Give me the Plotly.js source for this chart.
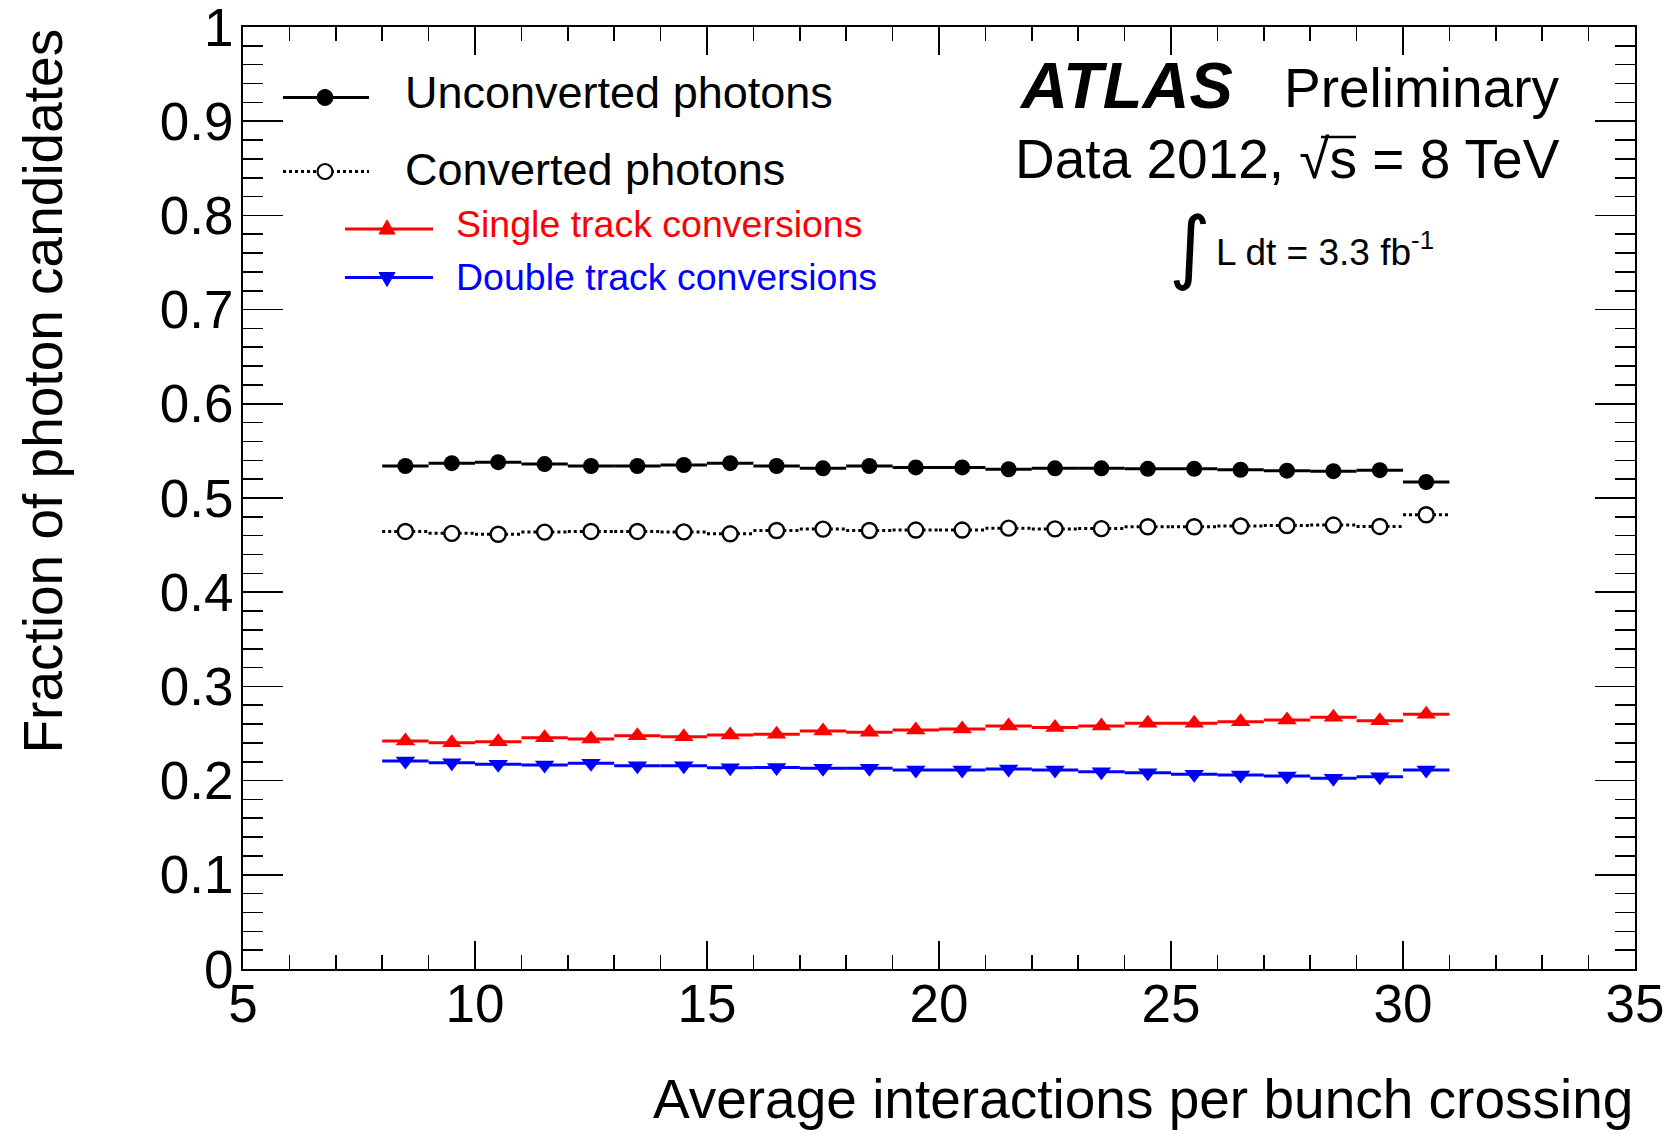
<!DOCTYPE html>
<html>
<head>
<meta charset="utf-8">
<script src="https://cdn.plot.ly/plotly-3.0.1.min.js"></script>
<style>
  html, body { margin: 0; padding: 0; background: #fff; }
  #chart { width: 1670px; height: 1131px; }
</style>
</head>
<body>
<div id="chart"></div>
<script>
// Average interactions per bunch crossing (bin centres, bin width 1)
const mu = [8.5, 9.5, 10.5, 11.5, 12.5, 13.5, 14.5, 15.5, 16.5, 17.5, 18.5, 19.5,
            20.5, 21.5, 22.5, 23.5, 24.5, 25.5, 26.5, 27.5, 28.5, 29.5, 30.5];
const binWidth = 1;

// Fraction of photon candidates per category
const unconverted = [0.534, 0.537, 0.538, 0.536, 0.534, 0.534, 0.535, 0.537, 0.534, 0.5315, 0.534, 0.5325,
                     0.5325, 0.5305, 0.5315, 0.5315, 0.531, 0.531, 0.530, 0.529, 0.5285, 0.5295, 0.517];
const converted   = [0.4645, 0.4625, 0.4615, 0.4638, 0.4645, 0.4645, 0.464, 0.462, 0.4655, 0.467, 0.4655, 0.466,
                     0.466, 0.468, 0.4672, 0.4675, 0.4695, 0.4695, 0.4703, 0.4708, 0.4713, 0.4698, 0.4822];
const singleTrack = [0.242, 0.2403, 0.2413, 0.2455, 0.2442, 0.2477, 0.2466, 0.2484, 0.2492, 0.2527, 0.2513, 0.2537,
                     0.2548, 0.258, 0.2565, 0.258, 0.2608, 0.2608, 0.2626, 0.2643, 0.2672, 0.2636, 0.2704];
const doubleTrack = [0.2208, 0.219, 0.2173, 0.2166, 0.2184, 0.2158, 0.2158, 0.2137, 0.214, 0.2131, 0.2131, 0.2113,
                     0.2113, 0.2123, 0.2113, 0.2094, 0.2084, 0.2067, 0.206, 0.2049, 0.2024, 0.2042, 0.2113];

const seriesNames = ["Unconverted photons", "Converted photons",
                     "Single track conversions", "Double track conversions"];

// Tick values
const xTicks = [5, 10, 15, 20, 25, 30, 35];
const yTicks = [0, 0.1, 0.2, 0.3, 0.4, 0.5, 0.6, 0.7, 0.8, 0.9, 1];
const yTickText = ["0", "0.1", "0.2", "0.3", "0.4", "0.5", "0.6", "0.7", "0.8", "0.9", "1"];

const FONT = "Liberation Sans, Arial, Helvetica, sans-serif";

// Series styling
const styles = [
  { y: unconverted, color: "#000000", dash: "solid", lineWidth: 3,
    marker: { symbol: "circle", size: 16, color: "#000000" } },
  { y: converted, color: "#000000", dash: "dot", lineWidth: 3,
    marker: { symbol: "circle", size: 15, color: "#ffffff", line: { color: "#000000", width: 2.4 } } },
  { y: singleTrack, color: "#ff0000", dash: "solid", lineWidth: 3,
    marker: { symbol: "triangle-up", size: 17, color: "#ff0000" } },
  { y: doubleTrack, color: "#0000ff", dash: "solid", lineWidth: 3,
    marker: { symbol: "triangle-down", size: 17, color: "#0000ff" } }
];

const traces = [];
styles.forEach((s, k) => {
  // horizontal bar spanning each bin
  const bx = [], by = [];
  mu.forEach((m, i) => {
    bx.push(m - binWidth / 2, m + binWidth / 2, null);
    by.push(s.y[i], s.y[i], null);
  });
  traces.push({
    type: "scatter", mode: "lines", x: bx, y: by, name: seriesNames[k],
    line: { color: s.color, width: s.lineWidth, dash: s.dash },
    connectgaps: false, showlegend: false, hoverinfo: "skip"
  });
});
styles.forEach((s, k) => {
  traces.push({
    type: "scatter", mode: "markers", x: mu, y: s.y, name: seriesNames[k],
    marker: s.marker, showlegend: false
  });
});

// plot-area geometry (pixels) used to place the legend and labels
const L = 243, T = 27, W = 1392, H = 942;
const px = x => (x - L) / W;
const py = y => (T + H - y) / H;

const shapes = [];
const annotations = [];

// hand-built legend
const legendRows = [
  { text: seriesNames[0], color: "#000000", dash: "solid", x0: 283, x1: 369, xm: 325, y: 97.5, ty: 93, tx: 403, size: 45, mk: "dot" },
  { text: seriesNames[1], color: "#000000", dash: "dot",   x0: 283, x1: 369, xm: 325, y: 171.5, ty: 170, tx: 403, size: 45, mk: "open" },
  { text: seriesNames[2], color: "#ff0000", dash: "solid", x0: 345, x1: 433, xm: 387, y: 229, ty: 224, tx: 454, size: 37.5, mk: "up" },
  { text: seriesNames[3], color: "#0000ff", dash: "solid", x0: 345, x1: 433, xm: 387, y: 277.5, ty: 277, tx: 454, size: 37.5, mk: "down" }
];
legendRows.forEach(r => {
  shapes.push({ type: "line", xref: "paper", yref: "paper",
    x0: px(r.x0), x1: px(r.x1), y0: py(r.y), y1: py(r.y),
    line: { color: r.color, width: 3, dash: r.dash } });
  const base = { xref: "paper", yref: "paper", xsizemode: "pixel", ysizemode: "pixel",
                 xanchor: px(r.xm), yanchor: py(r.y) };
  if (r.mk === "dot") {
    shapes.push(Object.assign({ type: "circle", x0: -8, x1: 8, y0: -8, y1: 8,
      fillcolor: r.color, line: { color: r.color, width: 1 } }, base));
  } else if (r.mk === "open") {
    shapes.push(Object.assign({ type: "circle", x0: -7.5, x1: 7.5, y0: -7.5, y1: 7.5,
      fillcolor: "#ffffff", line: { color: r.color, width: 2.2 } }, base));
  } else if (r.mk === "up") {
    shapes.push(Object.assign({ type: "path", path: "M-8,-5L8,-5L0,9Z",
      fillcolor: r.color, line: { color: r.color, width: 1 } }, base));
  } else {
    shapes.push(Object.assign({ type: "path", path: "M-8,5L8,5L0,-9Z",
      fillcolor: r.color, line: { color: r.color, width: 1 } }, base));
  }
  annotations.push({ xref: "paper", yref: "paper", x: px(r.tx), y: py(r.ty),
    xanchor: "left", yanchor: "middle", showarrow: false, text: r.text,
    font: { family: FONT, size: r.size, color: r.color } });
});

// experiment label block
annotations.push(
  { xref: "paper", yref: "paper", x: px(1017), y: py(86), xanchor: "left", yanchor: "middle",
    showarrow: false, text: "<b><i>ATLAS</i></b>", font: { family: FONT, size: 65, color: "#000" } },
  { xref: "paper", yref: "paper", x: px(1562), y: py(88), xanchor: "right", yanchor: "middle",
    showarrow: false, text: "Preliminary", font: { family: FONT, size: 55, color: "#000" } },
  { xref: "paper", yref: "paper", x: px(1562), y: py(159), xanchor: "right", yanchor: "middle",
    showarrow: false, text: "Data 2012, √s = 8 TeV",
    font: { family: FONT, size: 55, color: "#000" } },
  { xref: "paper", yref: "paper", x: px(1190), y: py(247), xanchor: "center", yanchor: "middle",
    showarrow: false, text: "∫", font: { family: "DejaVu Sans", size: 80, color: "#000" } },
  { xref: "paper", yref: "paper", x: px(1214), y: py(250), xanchor: "left", yanchor: "middle",
    showarrow: false, text: "L dt = 3.3 fb<sup>-1</sup>", font: { family: FONT, size: 37, color: "#000" } }
);
// vinculum of the square root over "s"
shapes.push({ type: "line", xref: "paper", yref: "paper", layer: "above",
  x0: px(1321), x1: px(1356), y0: py(137), y1: py(137), line: { color: "#000", width: 2.5 } });

// axis titles, aligned to the far ends of the axes
annotations.push(
  { xref: "paper", yref: "paper", x: 1, y: py(1099), xanchor: "right", yanchor: "middle",
    showarrow: false, text: "Average interactions per bunch crossing",
    font: { family: FONT, size: 55, color: "#000" } },
  { xref: "paper", yref: "paper", x: px(42), y: 1, xanchor: "center", yanchor: "top",
    textangle: -90, showarrow: false, text: "Fraction of photon candidates",
    font: { family: FONT, size: 55, color: "#000" } }
);

const layout = {
  width: 1670, height: 1131,
  margin: { l: L, r: 1670 - L - W, t: T, b: 1131 - T - H, pad: 0 },
  paper_bgcolor: "#ffffff", plot_bgcolor: "#ffffff",
  showlegend: false,
  font: { family: FONT, size: 53, color: "#000" },
  xaxis: {
    range: [5, 35], tickmode: "array", tickvals: xTicks, ticks: "inside", ticklen: 28, tickwidth: 1.6,
    tickcolor: "#000", showline: true, linecolor: "#000", linewidth: 2, mirror: "allticks",
    showgrid: false, zeroline: false, ticklabelstandoff: -13, ticklabeloverflow: "allow",
    tickfont: { family: FONT, size: 53, color: "#000" },
    minor: { dtick: 1, tick0: 5, ticks: "inside", ticklen: 14, tickwidth: 1.6, tickcolor: "#000", showgrid: false }
  },
  yaxis: {
    range: [0, 1], tickmode: "array", tickvals: yTicks, ticktext: yTickText,
    ticks: "inside", ticklen: 40, tickwidth: 1.6,
    tickcolor: "#000", showline: true, linecolor: "#000", linewidth: 2, mirror: "allticks",
    showgrid: false, zeroline: false, ticklabelstandoff: -3, ticklabeloverflow: "allow",
    tickfont: { family: FONT, size: 53, color: "#000" },
    minor: { dtick: 0.02, tick0: 0, ticks: "inside", ticklen: 20, tickwidth: 1.6, tickcolor: "#000", showgrid: false }
  },
  shapes: shapes,
  annotations: annotations
};

Plotly.newPlot("chart", traces, layout, { staticPlot: true, displayModeBar: false });
</script>
</body>
</html>
